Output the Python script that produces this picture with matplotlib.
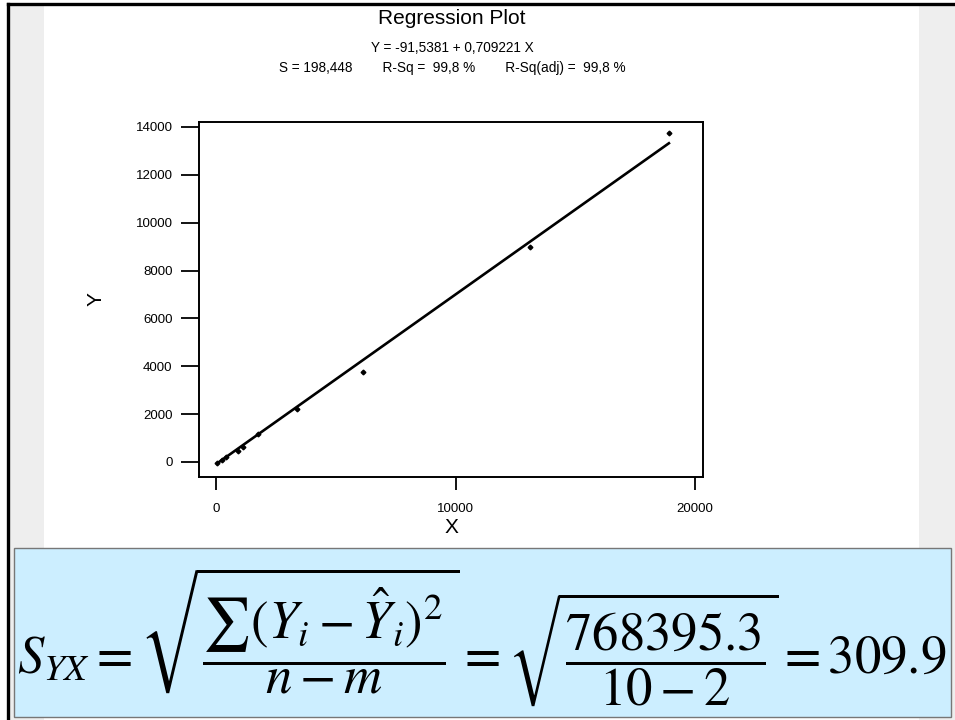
import matplotlib
matplotlib.use("Agg")
import matplotlib.pyplot as plt
from matplotlib.patches import Rectangle
from matplotlib.lines import Line2D
import numpy as np

# -- Data ---------------------------------------------------------------------
x_vals = [40, 250, 420, 920, 1130, 1750, 3380, 6140, 13110, 18910]
y_vals = [-40, 90, 210, 460, 630, 1170, 2210, 3760, 8990, 13750]

intercept = -91.5381
slope = 0.709221
s_value = "198,448"
r_sq = "99,8"
r_sq_adj = "99,8"

x_ticks = [0, 10000, 20000]
y_ticks = [0, 2000, 4000, 6000, 8000, 10000, 12000, 14000]

sse = "768395.3"
n_obs = 10
n_params = 2
s_yx = "309.9"

FONT = "Liberation Sans"
W, H = 955, 720

# -- Figure & slide background ------------------------------------------------
fig = plt.figure(figsize=(W / 100, H / 100), dpi=100, facecolor="white")

def px_rect(x0, y0, x1, y1, **kw):
    """Rectangle given in pixel coords (origin top-left)."""
    r = Rectangle((x0 / W, 1 - y1 / H), (x1 - x0) / W, (y1 - y0) / H,
                  transform=fig.transFigure, **kw)
    fig.add_artist(r)
    return r

px_rect(9, 5, 44, 720, facecolor="#eeeeee", edgecolor="none", zorder=0)
px_rect(919, 5, 955, 720, facecolor="#eeeeee", edgecolor="none", zorder=0)
fig.add_artist(Line2D([8 / W, 8 / W], [0, 1 - 4 / H], transform=fig.transFigure,
                      color="black", lw=2.4, zorder=1))
fig.add_artist(Line2D([8 / W, 1], [1 - 4 / H, 1 - 4 / H], transform=fig.transFigure,
                      color="black", lw=2.4, zorder=1))

# -- Regression plot ----------------------------------------------------------
ax = fig.add_axes([199 / W, 1 - 477 / H, (703 - 199) / W, (477 - 122) / H])
ax.set_facecolor("white")

x_line = np.array([min(x_vals), max(x_vals)])
ax.plot(x_line, intercept + slope * x_line, color="black", lw=1.9, zorder=2)
ax.plot(x_vals, y_vals, linestyle="none", marker="D", markersize=2.4,
        color="black", zorder=3)

ax.set_xlim(-710, 20334)
ax.set_ylim(-627, 14208)
ax.set_xticks(x_ticks)
ax.set_yticks(y_ticks)
ax.set_xticklabels([str(t) for t in x_ticks], fontfamily=FONT, fontsize=9.5)
ax.set_yticklabels([str(t) for t in y_ticks], fontfamily=FONT, fontsize=9.5)
ax.tick_params(axis="y", direction="out", length=13, width=1.3, pad=6)
ax.tick_params(axis="x", direction="out", length=9, width=1.3, pad=10)
for spine in ax.spines.values():
    spine.set_linewidth(1.4)

ax.set_xlabel("X", fontfamily=FONT, fontsize=15, labelpad=2)
ax.set_ylabel("Y", fontfamily=FONT, fontsize=15, labelpad=22)

fig.text(452 / W, 1 - 19 / H, "Regression Plot", ha="center", va="center",
         fontfamily=FONT, fontsize=15)
fig.text(452 / W, 1 - 48 / H,
         f"Y = {intercept:.4f} + {slope:.6f} X".replace(".", ","),
         ha="center", va="center", fontfamily=FONT, fontsize=9.8)
fig.text(452 / W, 1 - 68 / H,
         f"S = {s_value}        R-Sq =  {r_sq} %        R-Sq(adj) =  {r_sq_adj} %",
         ha="center", va="center", fontfamily=FONT, fontsize=9.8)

# -- Standard error formula box -----------------------------------------------
px_rect(14, 548, 951, 717, facecolor="#cceeff", edgecolor="#777777", lw=1.0, zorder=1)

plt.rcParams["mathtext.fontset"] = "stix"
formula = (r"$S_{YX} = \sqrt{\dfrac{\sum(Y_i - \hat{Y}_i)^2}{n - m}}"
           r" = \sqrt{\dfrac{" + sse + r"}{" + f"{n_obs}-{n_params}" + r"}}"
           r" = " + s_yx + r"$")
fig.text(482 / W, 1 - 637 / H, formula, ha="center", va="center",
         fontsize=38, zorder=2)

fig.savefig("out.png", dpi=100, facecolor="white")
